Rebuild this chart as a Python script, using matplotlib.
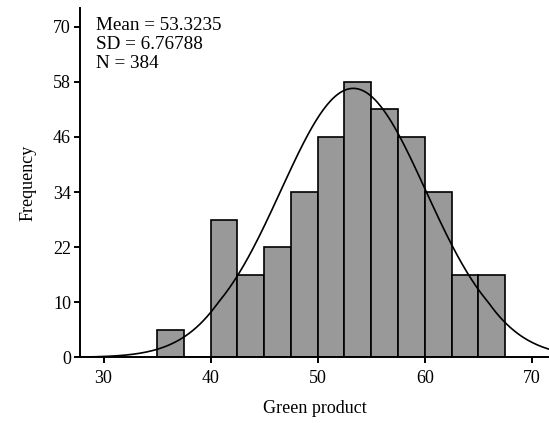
import numpy as np
import matplotlib.pyplot as plt

# histogram bins (Green product) and frequencies
bin_edges = [35, 37.5, 40, 42.5, 45, 47.5, 50, 52.5, 55, 57.5, 60, 62.5, 65, 67.5]
counts = [5, 0, 28, 16, 22, 34, 46, 58, 52, 46, 34, 16, 16]

mean_val = 53.3235
sd_val = 6.76788
n_val = 384

y_ticks = [0, 10, 22, 34, 46, 58, 70]
x_ticks = [30, 40, 50, 60, 70]

plt.rcParams["font.family"] = ["Liberation Serif", "DejaVu Serif"]


# the printed axis puts 0..10 on the same spacing as 10..22 etc.
def fwd(v):
    v = np.asarray(v, dtype=float)
    return np.where(v <= 10, v * 1.2, v + 2)


def inv(v):
    v = np.asarray(v, dtype=float)
    return np.where(v <= 12, v / 1.2, v - 2)


fig = plt.figure(figsize=(5.49, 4.23), dpi=100)
ax = fig.add_axes([80 / 549, (423 - 357.3) / 423, 1 - 80 / 549, (357.3 - 8) / 423])
ax.set_yscale("function", functions=(fwd, inv))

edges = np.array(bin_edges)
widths = np.diff(edges)
ax.bar(edges[:-1], counts, width=widths, align="edge",
       color="#999999", edgecolor="black", linewidth=1.2, zorder=2)

xs = np.linspace(27.8, 71.6, 400)
bw = widths[0]
ys = n_val * bw / (sd_val * np.sqrt(2 * np.pi)) * np.exp(-0.5 * ((xs - mean_val) / sd_val) ** 2)
ax.plot(xs, ys, color="black", linewidth=1.2, zorder=3)

ax.set_xlim(27.8, 71.6)
ax.set_ylim(0, 74.1)
ax.set_xticks(x_ticks)
ax.set_yticks(y_ticks)
ax.yaxis.set_minor_locator(plt.NullLocator())
ax.set_yticklabels([str(t) for t in y_ticks])

for s in ["top", "right"]:
    ax.spines[s].set_visible(False)
ax.spines["left"].set_linewidth(1.4)
ax.spines["bottom"].set_linewidth(1.4)
ax.tick_params(axis="both", direction="out", length=4.5, width=1.4,
               labelsize=13, pad=2)
ax.tick_params(axis="x", pad=5)

ax.set_xlabel("Green product", fontsize=13, labelpad=9)
ax.set_ylabel("Frequency", fontsize=13, labelpad=12)

ax.text(0.035, 0.975, f"Mean = {mean_val}\nSD = {sd_val}\nN = {n_val}",
        transform=ax.transAxes, ha="left", va="top", fontsize=13.8, linespacing=1.15)

fig.savefig("out.png", dpi=100)
